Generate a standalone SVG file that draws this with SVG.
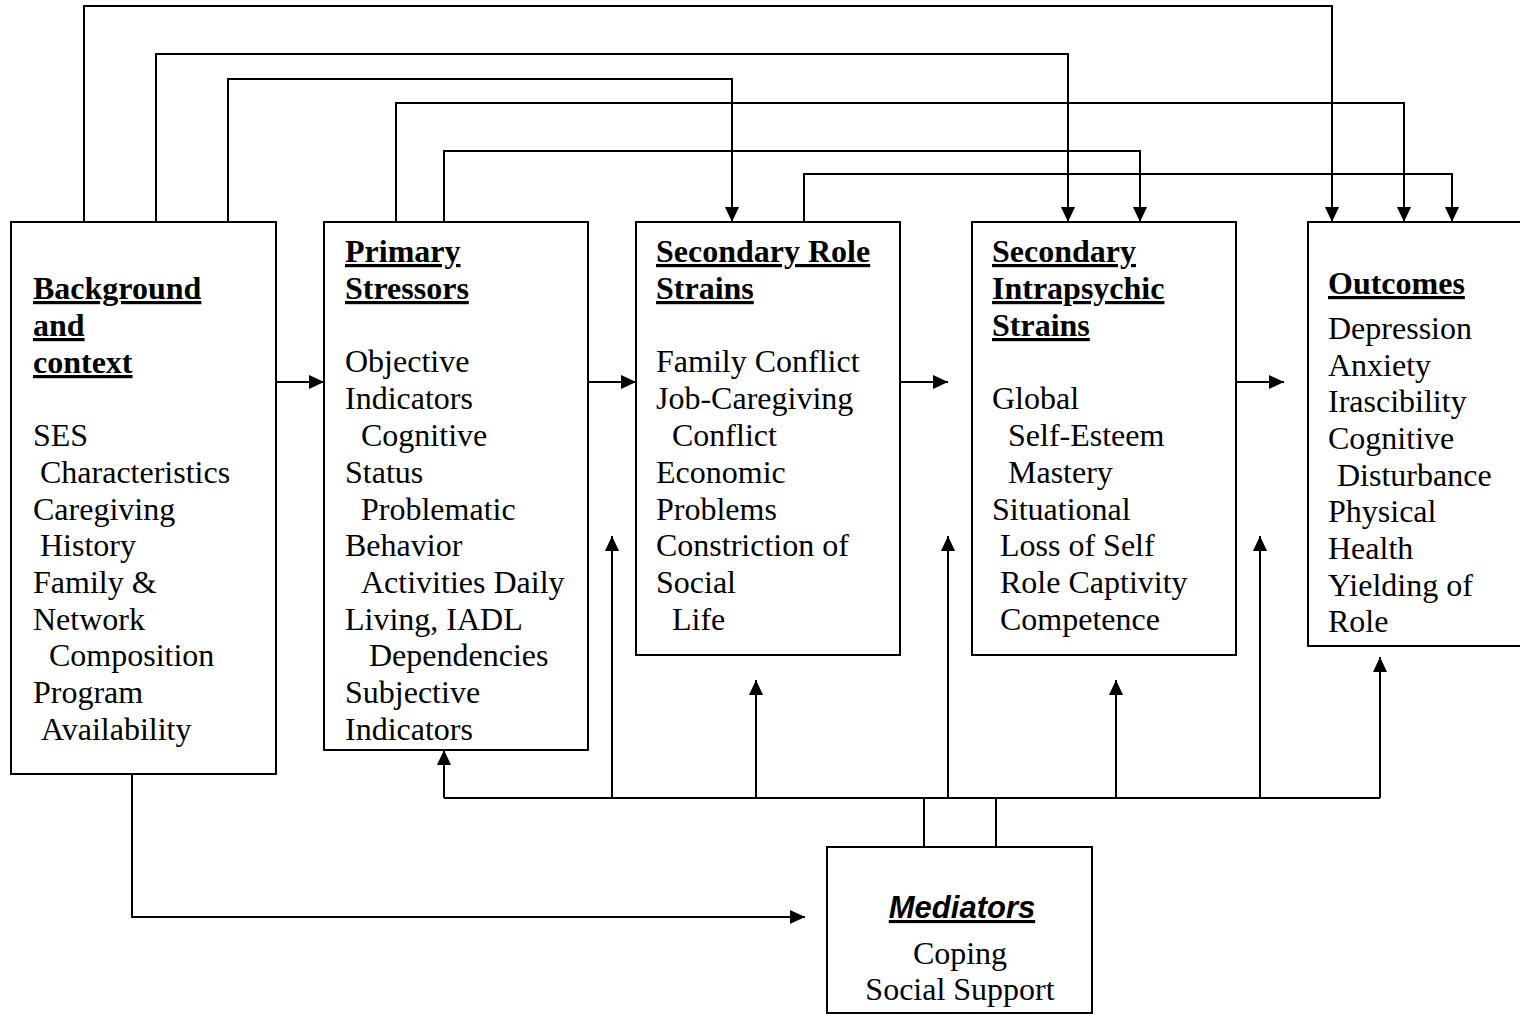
<svg xmlns="http://www.w3.org/2000/svg" width="1520" height="1014" viewBox="0 0 1520 1014">
<style>
.box{fill:#fff;stroke:#000;stroke-width:2}
.ln{fill:none;stroke:#000;stroke-width:2}
.t{font-family:"Liberation Serif","Times New Roman",serif;font-size:32px;fill:#000}
.h{font-weight:bold;text-decoration:underline}
.m{font-family:"Liberation Sans",Arial,sans-serif;font-size:31px;font-weight:bold;font-style:italic;text-decoration:underline}
</style>
<defs>
<marker id="ah" markerUnits="userSpaceOnUse" markerWidth="15" markerHeight="14" refX="15" refY="7" orient="auto">
<path d="M0,0 L15,7 L0,14 z" fill="#000"/>
</marker>
</defs>
<rect width="1520" height="1014" fill="#fff"/>
<g id="connectors">
<path class="ln" d="M84,222 V6 H1332 V222" marker-end="url(#ah)"/>
<path class="ln" d="M156,222 V54 H1068 V222" marker-end="url(#ah)"/>
<path class="ln" d="M228,222 V79 H732 V222" marker-end="url(#ah)"/>
<path class="ln" d="M396,222 V103 H1404 V222" marker-end="url(#ah)"/>
<path class="ln" d="M444,222 V151 H1140 V222" marker-end="url(#ah)"/>
<path class="ln" d="M804,222 V174 H1452 V222" marker-end="url(#ah)"/>
<path class="ln" d="M276,382 H324" marker-end="url(#ah)"/>
<path class="ln" d="M588,382 H636" marker-end="url(#ah)"/>
<path class="ln" d="M900,382 H948" marker-end="url(#ah)"/>
<path class="ln" d="M1236,382 H1284" marker-end="url(#ah)"/>
<path class="ln" d="M132,774 V917 H805" marker-end="url(#ah)"/>
<path class="ln" d="M444,798 H1380"/>
<path class="ln" d="M444,798 V750" marker-end="url(#ah)"/>
<path class="ln" d="M612,798 V536" marker-end="url(#ah)"/>
<path class="ln" d="M756,798 V680" marker-end="url(#ah)"/>
<path class="ln" d="M948,798 V536" marker-end="url(#ah)"/>
<path class="ln" d="M1116,798 V680" marker-end="url(#ah)"/>
<path class="ln" d="M1260,798 V536" marker-end="url(#ah)"/>
<path class="ln" d="M1380,798 V657" marker-end="url(#ah)"/>
<path class="ln" d="M924,798 V847 M996,798 V847"/>
</g>
<g id="background">
<rect class="box" x="11" y="222" width="265" height="552"/>
<text class="t h" x="33" y="299">Background</text>
<text class="t h" x="33" y="336">and</text>
<text class="t h" x="33" y="373">context</text>
<text class="t" x="33" y="446">SES</text>
<text class="t" x="40" y="483">Characteristics</text>
<text class="t" x="33" y="520">Caregiving</text>
<text class="t" x="40" y="556">History</text>
<text class="t" x="33" y="593">Family &amp;</text>
<text class="t" x="33" y="630">Network</text>
<text class="t" x="49" y="666">Composition</text>
<text class="t" x="33" y="703">Program</text>
<text class="t" x="41" y="740">Availability</text>
</g>
<g id="primary">
<rect class="box" x="324" y="222" width="264" height="528"/>
<text class="t h" x="345" y="262">Primary</text>
<text class="t h" x="345" y="299">Stressors</text>
<text class="t" x="345" y="372">Objective</text>
<text class="t" x="345" y="409">Indicators</text>
<text class="t" x="361" y="446">Cognitive</text>
<text class="t" x="345" y="483">Status</text>
<text class="t" x="361" y="520">Problematic</text>
<text class="t" x="345" y="556">Behavior</text>
<text class="t" x="361" y="593">Activities Daily</text>
<text class="t" x="345" y="630">Living, IADL</text>
<text class="t" x="369" y="666">Dependencies</text>
<text class="t" x="345" y="703">Subjective</text>
<text class="t" x="345" y="740">Indicators</text>
</g>
<g id="role">
<rect class="box" x="636" y="222" width="264" height="433"/>
<text class="t h" x="656" y="262">Secondary Role</text>
<text class="t h" x="656" y="299">Strains</text>
<text class="t" x="656" y="372">Family Conflict</text>
<text class="t" x="656" y="409">Job-Caregiving</text>
<text class="t" x="672" y="446">Conflict</text>
<text class="t" x="656" y="483">Economic</text>
<text class="t" x="656" y="520">Problems</text>
<text class="t" x="656" y="556">Constriction of</text>
<text class="t" x="656" y="593">Social</text>
<text class="t" x="672" y="630">Life</text>
</g>
<g id="intrapsychic">
<rect class="box" x="972" y="222" width="264" height="433"/>
<text class="t h" x="992" y="262">Secondary</text>
<text class="t h" x="992" y="299">Intrapsychic</text>
<text class="t h" x="992" y="336">Strains</text>
<text class="t" x="992" y="409">Global</text>
<text class="t" x="1008" y="446">Self-Esteem</text>
<text class="t" x="1008" y="483">Mastery</text>
<text class="t" x="992" y="520">Situational</text>
<text class="t" x="1000" y="556">Loss of Self</text>
<text class="t" x="1000" y="593">Role Captivity</text>
<text class="t" x="1000" y="630">Competence</text>
</g>
<g id="outcomes">
<rect class="box" x="1308" y="222" width="250" height="424"/>
<text class="t h" x="1328" y="294">Outcomes</text>
<text class="t" x="1328" y="339">Depression</text>
<text class="t" x="1328" y="376">Anxiety</text>
<text class="t" x="1328" y="412">Irascibility</text>
<text class="t" x="1328" y="449">Cognitive</text>
<text class="t" x="1337" y="486">Disturbance</text>
<text class="t" x="1328" y="522">Physical</text>
<text class="t" x="1328" y="559">Health</text>
<text class="t" x="1328" y="596">Yielding of</text>
<text class="t" x="1328" y="632">Role</text>
</g>
<g id="mediators">
<rect class="box" x="827" y="847" width="265" height="166"/>
<text class="m" x="962" y="918" text-anchor="middle">Mediators</text>
<text class="t" x="960" y="964" text-anchor="middle">Coping</text>
<text class="t" x="960" y="1000" text-anchor="middle">Social Support</text>
</g>
</svg>
